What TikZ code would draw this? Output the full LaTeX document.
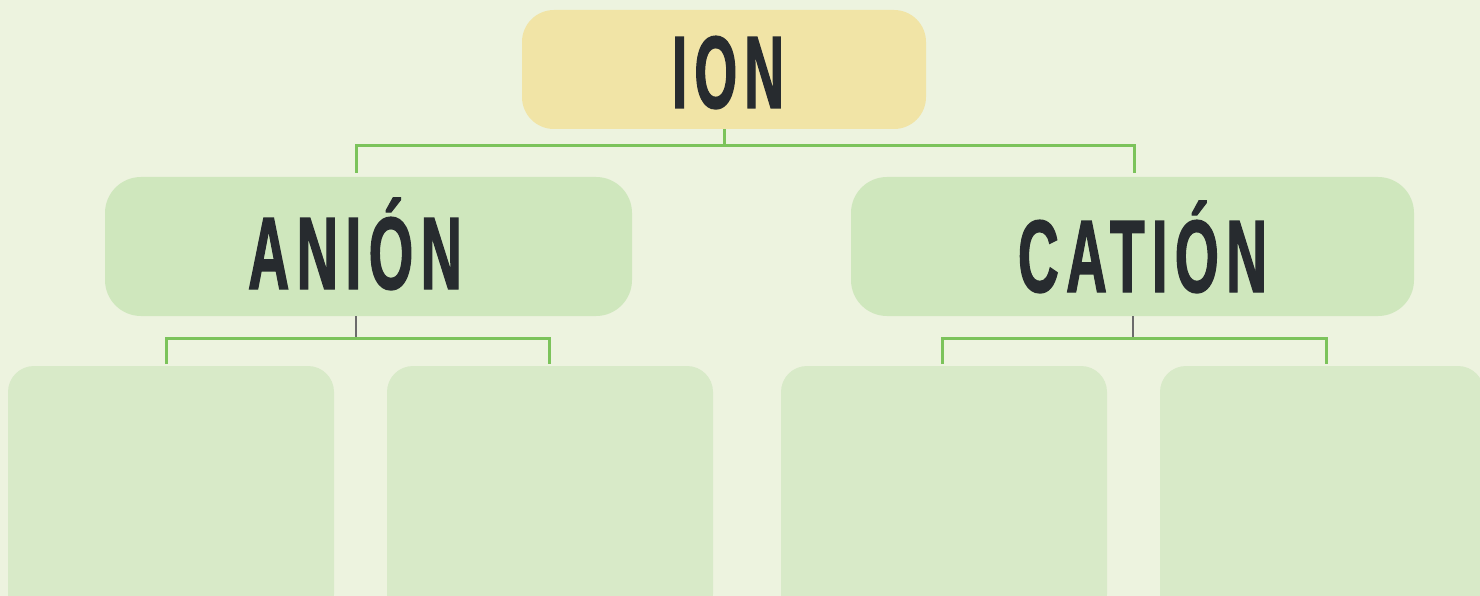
\documentclass[tikz,border=0pt]{standalone}
\usepackage{fontspec}
\usepackage{graphicx}
\newfontfamily\bebas[FakeStretch=0.62,LetterSpace=8,FakeBold=1.3]{Liberation Sans}
\definecolor{bg}{HTML}{EDF3DF}
\definecolor{ionfill}{HTML}{F1E4A6}
\definecolor{midfill}{HTML}{CFE7BD}
\definecolor{lowfill}{HTML}{D8EAC8}
\definecolor{lgreen}{HTML}{7CC35B}
\definecolor{lgray}{HTML}{6B6B6B}
\definecolor{ink}{HTML}{272B2F}
\tikzset{
  boxshape/.style={draw=none, rectangle, inner sep=0pt},
  lbl/.style={anchor=base, inner sep=0pt, text=ink, font=\bebas\bfseries\fontsize{103}{103}\selectfont},
  gconn/.style={draw=lgreen, line width=3pt},
  kconn/.style={draw=lgray, line width=2.5pt},
}
\begin{document}
\begin{tikzpicture}[x=1pt,y=-1pt]
\fill[bg] (0,0) rectangle (1480,596);
\useasboundingbox (0,0) rectangle (1480,596);
% boxes
\fill[ionfill, rounded corners=32pt] (522,10) rectangle (926,129);
\node[boxshape, minimum width=404pt, minimum height=119pt] (ion) at (724,69.5) {};
\fill[midfill, rounded corners=36pt] (105,177) rectangle (632,316);
\node[boxshape, minimum width=527pt, minimum height=139pt] (anion) at (368.5,246.5) {};
\fill[midfill, rounded corners=36pt] (851,177) rectangle (1414,316);
\node[boxshape, minimum width=563pt, minimum height=139pt] (cation) at (1132.5,246.5) {};
\fill[lowfill, rounded corners=26pt] (8,366) rectangle (334,620);
\node[boxshape, minimum width=326pt, minimum height=230pt] (b1) at (171,481) {};
\fill[lowfill, rounded corners=26pt] (387,366) rectangle (713,620);
\node[boxshape, minimum width=326pt, minimum height=230pt] (b2) at (550,481) {};
\fill[lowfill, rounded corners=26pt] (781,366) rectangle (1107,620);
\node[boxshape, minimum width=326pt, minimum height=230pt] (b3) at (944,481) {};
\fill[lowfill, rounded corners=26pt] (1160,366) rectangle (1484,620);
\node[boxshape, minimum width=324pt, minimum height=230pt] (b4) at (1322,481) {};
% labels
\node[lbl] (ionlbl) at (728,108) {\resizebox{112pt}{\height}{ION}};
\node[lbl] (anionlbl) at (355,289) {\resizebox{214pt}{\height}{ANIÓN}};
\node[lbl] (cationlbl) at (1142.5,292) {\resizebox{249pt}{\height}{CATIÓN}};
% connectors
\coordinate (j1) at (724,146);
\coordinate (ta) at (356,173);
\coordinate (tc) at (1134,173);
\draw[gconn] (ion.south) -- (j1);
\draw[gconn] (ta) |- (j1) -| (tc);
\coordinate (ja) at (356,338);
\coordinate (t1) at (166,364);
\coordinate (t2) at (549,364);
\draw[kconn] (anion.south -| ja) -- (ja);
\draw[gconn] (t1) |- (ja) -| (t2);
\coordinate (jc) at (1133,338);
\coordinate (t3) at (942,364);
\coordinate (t4) at (1326,364);
\draw[kconn] (cation.south -| jc) -- (jc);
\draw[gconn] (t3) |- (jc) -| (t4);
\end{tikzpicture}
\end{document}
